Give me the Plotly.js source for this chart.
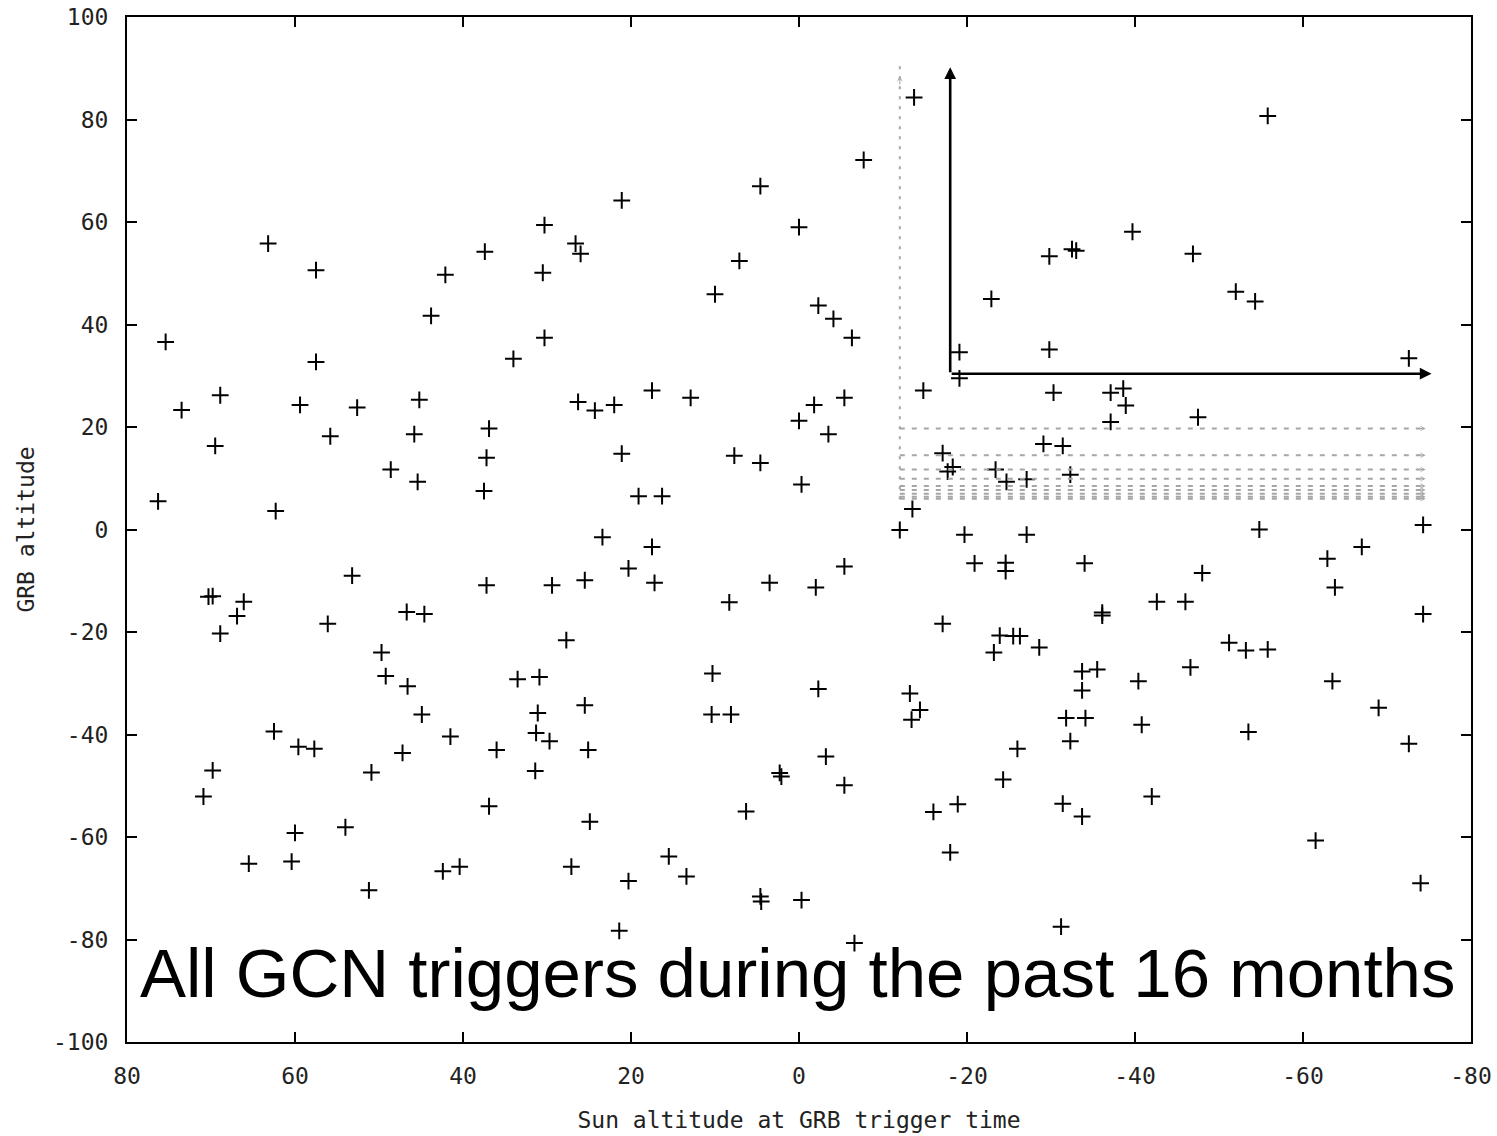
<!DOCTYPE html>
<html>
<head>
<meta charset="utf-8">
<script src="https://cdn.plot.ly/plotly-3.0.1.min.js"></script>
<style>
  html, body { margin: 0; padding: 0; background: #ffffff; }
  #chart { width: 1497px; height: 1136px; }
</style>
</head>
<body>
<div id="chart"></div>
<script>
// ---- Data: Sun altitude (x) and GRB altitude (y) for each GCN trigger ----
const sunAlt = [
  63.2, 57.5, 42.1, 43.8, 75.4, 57.5,
  4.6, 21.1, 30.3, 37.4, 26.6, 26.0, 30.5, 7.1, 10.0, 30.3, 34.0,
  -13.7, -7.7, 0.0, -2.3, -4.1, -6.3, -22.9, -29.8, -32.5, -33.0, -19.1, -29.8,
  -55.8, -39.7, -46.9, -52.0, -54.3, -72.6,
  68.9, 73.5, 59.4, 52.6, 45.2, 69.5, 55.8, 45.8, 48.6, 45.4, 76.3, 62.3, 53.2,
  69.8, 70.3, 66.1, 66.9, 68.9, 56.1, 46.7, 44.6, 49.7, 49.2, 46.6,
  26.3, 24.3, 22.0, 17.5, 12.9, 36.9, 37.2, 37.5, 21.1, 7.7, 4.6, 19.1, 16.3,
  23.4, 17.5, 20.3, 17.2, 37.2, 29.4, 25.5, 3.5, 8.3, 27.7, 33.5, 30.9, 10.3,
  -19.1, -14.8, -30.3, -37.1, -38.6, -38.9, -37.1, -47.5, -5.4, -1.8, 0.0, -3.5,
  -0.3, -29.1, -31.4, -17.1, -18.3, -17.7, -23.4, -24.7, -27.1, -32.3, -13.5,
  -12.0, -19.7, -27.1, -5.4, -2.0, -20.9, -24.6, -24.6, -34.0, -36.1, -36.1,
  -17.1, -23.9, -25.5, -26.3, -23.2, -28.6, -33.7, -35.5, -33.7, -2.3, -13.2,
  -54.8, -74.3, -67.0, -62.9, -63.8, -48.0, -42.6, -46.0, -74.3, -51.2, -53.2,
  -55.8, -46.6, -40.4, -63.5,
  44.9, 41.5, 62.5, 59.6, 57.7, 47.2, 50.9, 69.8, 70.9, 54.0, 60.0, 65.5, 60.4,
  51.2, 42.4, 40.4,
  36.0, 31.1, 25.5, 31.3, 29.7, 25.1, 31.4, 36.9, 24.9, 10.4, 8.1, 2.3, 2.1, 6.3,
  27.1, 15.5, 13.4, 20.3, 4.6, 4.5, 21.4,
  -14.4, -13.4, -31.8, -34.1, -32.3, -26.0, -3.2, -24.3, -5.4, -16.0, -18.9,
  -31.4, -33.7, -18.0, -0.3, -6.6, -31.2,
  -40.8, -53.5, -42.0, -69.0, -72.6, -61.5, -74.0
];
const grbAlt = [
  55.8, 50.6, 49.7, 41.7, 36.6, 32.7,
  67.0, 64.2, 59.4, 54.2, 55.8, 53.8, 50.1, 52.4, 45.9, 37.4, 33.3,
  84.3, 72.1, 59.0, 43.7, 41.1, 37.4, 45.0, 53.3, 54.7, 54.4, 34.6, 35.1,
  80.7, 58.1, 53.8, 46.4, 44.5, 33.4,
  26.2, 23.3, 24.3, 23.8, 25.3, 16.3, 18.2, 18.6, 11.7, 9.3, 5.5, 3.6, -9.0,
  -13.0, -13.1, -14.1, -16.9, -20.3, -18.4, -16.1, -16.5, -24.0, -28.6, -30.6,
  24.9, 23.2, 24.3, 27.1, 25.7, 19.7, 14.0, 7.5, 14.8, 14.4, 13.0, 6.5, 6.5,
  -1.5, -3.4, -7.6, -10.4, -10.9, -10.9, -9.9, -10.4, -14.2, -21.6, -29.2, -28.8, -28.1,
  29.5, 27.1, 26.7, 26.7, 27.5, 24.2, 21.0, 21.9, 25.7, 24.3, 21.2, 18.6,
  8.8, 16.7, 16.3, 14.9, 12.2, 11.3, 11.7, 9.3, 9.8, 10.7, 4.0,
  -0.1, -1.0, -1.0, -7.2, -11.3, -6.6, -6.5, -8.1, -6.6, -16.2, -16.8,
  -18.4, -20.7, -20.8, -20.8, -24.0, -23.0, -27.7, -27.3, -31.4, -31.1, -32.0,
  0.0, 0.9, -3.4, -5.7, -11.3, -8.5, -14.1, -14.1, -16.5, -22.1, -23.6,
  -23.4, -26.9, -29.6, -29.6,
  -36.1, -40.4, -39.4, -42.4, -42.8, -43.6, -47.4, -47.0, -52.1, -58.1, -59.2, -65.2, -64.8,
  -70.4, -66.7, -65.8,
  -43.0, -35.8, -34.3, -39.7, -41.3, -43.0, -47.1, -54.0, -57.0, -36.1, -36.1, -47.5, -48.2, -55.0,
  -65.8, -63.8, -67.7, -68.6, -71.6, -72.6, -78.3,
  -35.2, -37.1, -36.8, -36.8, -41.3, -42.8, -44.3, -48.8, -49.9, -55.1, -53.6,
  -53.5, -56.0, -63.0, -72.3, -80.7, -77.5,
  -38.1, -39.5, -52.1, -34.8, -41.8, -60.7, -69.0
];

// ---- Tick labels ----
const xTickVals = [80, 60, 40, 20, 0, -20, -40, -60, -80];
const xTickText = ['80', '60', '40', '20', '0', '-20', '-40', '-60', '-80'];
const yTickVals = [100, 80, 60, 40, 20, 0, -20, -40, -60, -80, -100];
const yTickText = ['100', '80', '60', '40', '20', '0', '-20', '-40', '-60', '-80', '-100'];

// ---- Texts ----
const xTitle = 'Sun altitude at GRB trigger time';
const yTitle = 'GRB altitude';
const caption = 'All GCN triggers during the past 16 months';

// ---- Inset overlay (data coordinates) ----
const insetOrigin = [-18, 30.4];
const insetTopY = 90.2;
const insetRightX = -75.3;
const greyX = [-12, -74.6];
const greyVertical = [5.9, 90.5];
const greyLevels = [19.7, 14.5, 11.7, 9.9, 8.5, 7.7, 7.0, 6.4, 6.0];

const monoFont = 'DejaVu Sans Mono';
const monoSize = 23;
const grey = '#a6a6a6';

const trace = {
  type: 'scatter',
  mode: 'markers',
  x: sunAlt,
  y: grbAlt,
  marker: {
    symbol: 'cross-thin-open',
    size: 12,
    color: '#000',
    line: { width: 2, color: '#000' }
  },
  hoverinfo: 'x+y',
  showlegend: false
};

const shapes = [];
shapes.push({
  type: 'line', xref: 'x', yref: 'y',
  x0: greyX[0], x1: greyX[0], y0: greyVertical[0], y1: greyVertical[1],
  line: { color: grey, width: 2, dash: '3px,7px' }
});
greyLevels.forEach(function (lv) {
  shapes.push({
    type: 'line', xref: 'x', yref: 'y',
    x0: greyX[0], x1: greyX[1], y0: lv, y1: lv,
    line: { color: grey, width: 2, dash: '5px,7px' }
  });
});

const annotations = [];
// black vertical arrow
annotations.push({
  xref: 'x', yref: 'y', axref: 'x', ayref: 'y',
  x: insetOrigin[0], y: insetTopY, ax: insetOrigin[0], ay: insetOrigin[1],
  text: '', showarrow: true, arrowhead: 2, arrowsize: 0.9, arrowwidth: 2.6,
  arrowcolor: '#000', standoff: 0, startstandoff: 0
});
// black horizontal arrow
annotations.push({
  xref: 'x', yref: 'y', axref: 'x', ayref: 'y',
  x: insetRightX, y: insetOrigin[1], ax: insetOrigin[0], ay: insetOrigin[1],
  text: '', showarrow: true, arrowhead: 2, arrowsize: 0.9, arrowwidth: 2.6,
  arrowcolor: '#000', standoff: 0, startstandoff: 0
});
// grey heads
greyLevels.forEach(function (lv) {
  annotations.push({
    xref: 'x', yref: 'y', axref: 'x', ayref: 'y',
    x: greyX[1], y: lv, ax: greyX[1] + 1.2, ay: lv,
    text: '', showarrow: true, arrowhead: 3, arrowsize: 1, arrowwidth: 1,
    arrowcolor: grey, standoff: 0
  });
});
annotations.push({
  xref: 'x', yref: 'y', axref: 'x', ayref: 'y',
  x: greyX[0], y: greyVertical[1] - 2, ax: greyX[0], ay: greyVertical[1] - 4,
  text: '', showarrow: true, arrowhead: 3, arrowsize: 1, arrowwidth: 1,
  arrowcolor: grey, standoff: 0
});
// caption
annotations.push({
  xref: 'paper', yref: 'paper', x: 0.499, y: 0.067,
  xanchor: 'center', yanchor: 'middle',
  text: caption, showarrow: false,
  font: { family: 'Liberation Sans, Arial, sans-serif', size: 69, color: '#000' }
});

const axisCommon = {
  showgrid: false,
  zeroline: false,
  showline: true,
  linecolor: '#000',
  linewidth: 2,
  mirror: 'ticks',
  ticks: 'inside',
  ticklen: 10,
  tickwidth: 2,
  tickcolor: '#000',
  tickmode: 'array',
  tickfont: { family: monoFont, size: monoSize, color: '#222' }
};

const layout = {
  width: 1497,
  height: 1136,
  paper_bgcolor: '#fff',
  plot_bgcolor: '#fff',
  margin: { l: 127, r: 26, t: 17, b: 94 },
  showlegend: false,
  xaxis: Object.assign({}, axisCommon, {
    range: [80, -80],
    autorange: false,
    tickvals: xTickVals,
    ticktext: xTickText,
    ticklabelstandoff: 12,
    title: { text: xTitle, font: { family: monoFont, size: monoSize, color: '#222' }, standoff: 24 }
  }),
  yaxis: Object.assign({}, axisCommon, {
    range: [-100, 100],
    autorange: false,
    tickvals: yTickVals,
    ticktext: yTickText,
    ticklabelstandoff: 12,
    title: { text: yTitle, font: { family: monoFont, size: monoSize, color: '#222' }, standoff: 12 }
  }),
  shapes: shapes,
  annotations: annotations
};

Plotly.newPlot('chart', [trace], layout, { displayModeBar: false, staticPlot: true });
</script>
</body>
</html>
